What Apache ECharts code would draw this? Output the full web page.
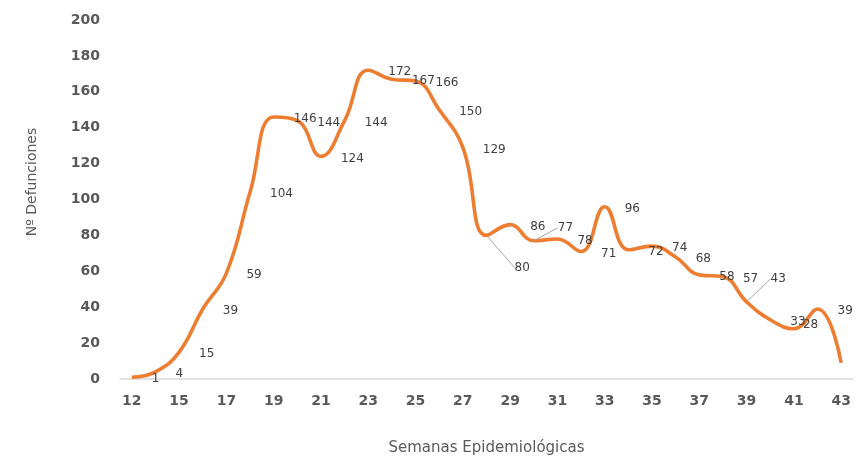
<!DOCTYPE html>
<html>
<head>
<meta charset="utf-8">
<script src="https://cdn.jsdelivr.net/npm/echarts@6/dist/echarts.min.js"></script>
<style>html,body{margin:0;padding:0;background:#fff}#c{width:857px;height:461px}</style>
</head>
<body>
<div id="c"></div>
<script>
var weeks = ['12','14','15','16','17','18','19','20','21','22','23','24','25','26','27','28','29','30','31','32','33','34','35','36','37','38','39','40','41','42','43'];
var deaths = [1,4,15,39,59,104,146,144,124,144,172,167,166,150,129,80,86,77,78,71,96,72,74,68,58,57,43,33,28,39,9];
var yTicks = {min:0, max:200, step:20};

// label placement (style only): default shift, and per-index [dx, dy, guideLine]
var labelShift = [20, 2];
var labelMoves = {15:[28,32,true], 17:[24,-13,true], 26:[24,-23,true], 28:[9,-4,false]};
var hiddenLabels = {30:true};

var chart = echarts.init(document.getElementById('c'), null, {renderer:'canvas'});
var seriesData = deaths.map(function(v,i){
  var item = {value:v};
  if (hiddenLabels[i]) item.label = {show:false};
  if (labelMoves[i] && labelMoves[i][2]) item.labelLine = {show:true};
  return item;
});
chart.setOption({
  animation:false,
  grid:{left:120, right:4, top:20, bottom:76, containLabel:false},
  xAxis:{
    type:'category', data:weeks, boundaryGap:true,
    name:'Semanas Epidemiológicas', nameLocation:'middle', nameGap:62,
    nameTextStyle:{fontFamily:'DejaVu Sans', fontSize:15, color:'#595959'},
    axisLine:{lineStyle:{color:'#d9d9d9', width:1.5}},
    axisTick:{show:false},
    axisLabel:{interval:1, margin:15, fontFamily:'DejaVu Sans', fontWeight:'bold', fontSize:14, color:'#595959'}
  },
  yAxis:{
    type:'value', min:yTicks.min, max:yTicks.max, interval:yTicks.step,
    axisLine:{show:false}, axisTick:{show:false}, splitLine:{show:false},
    axisLabel:{margin:20, fontFamily:'DejaVu Sans', fontWeight:'bold', fontSize:14, color:'#595959'}
  },
  graphic:[{
    type:'text', x:32, y:182, rotation:Math.PI/2,
    style:{text:'Nº Defunciones', fontFamily:'DejaVu Sans', fontSize:14, fill:'#595959', textAlign:'center', textVerticalAlign:'middle'}
  }],
  series:[{
    type:'line', data:seriesData, smooth:0.45,
    symbol:'circle', symbolSize:2, showSymbol:true,
    itemStyle:{color:'rgba(0,0,0,0)', borderWidth:0},
    lineStyle:{color:'#ED7D31', width:3.6},
    label:{show:true, position:'inside', align:'left', verticalAlign:'middle',
      fontFamily:'DejaVu Sans', fontSize:12, color:'#404040'},
    labelLine:{show:false, lineStyle:{color:'#a6a6a6', width:1}},
    labelLayout:function(p){
      var m = labelMoves[p.dataIndex];
      if (m) return {dx:m[0], dy:m[1]};
      return {dx:labelShift[0], dy:labelShift[1]};
    }
  }]
});
</script>
</body>
</html>
